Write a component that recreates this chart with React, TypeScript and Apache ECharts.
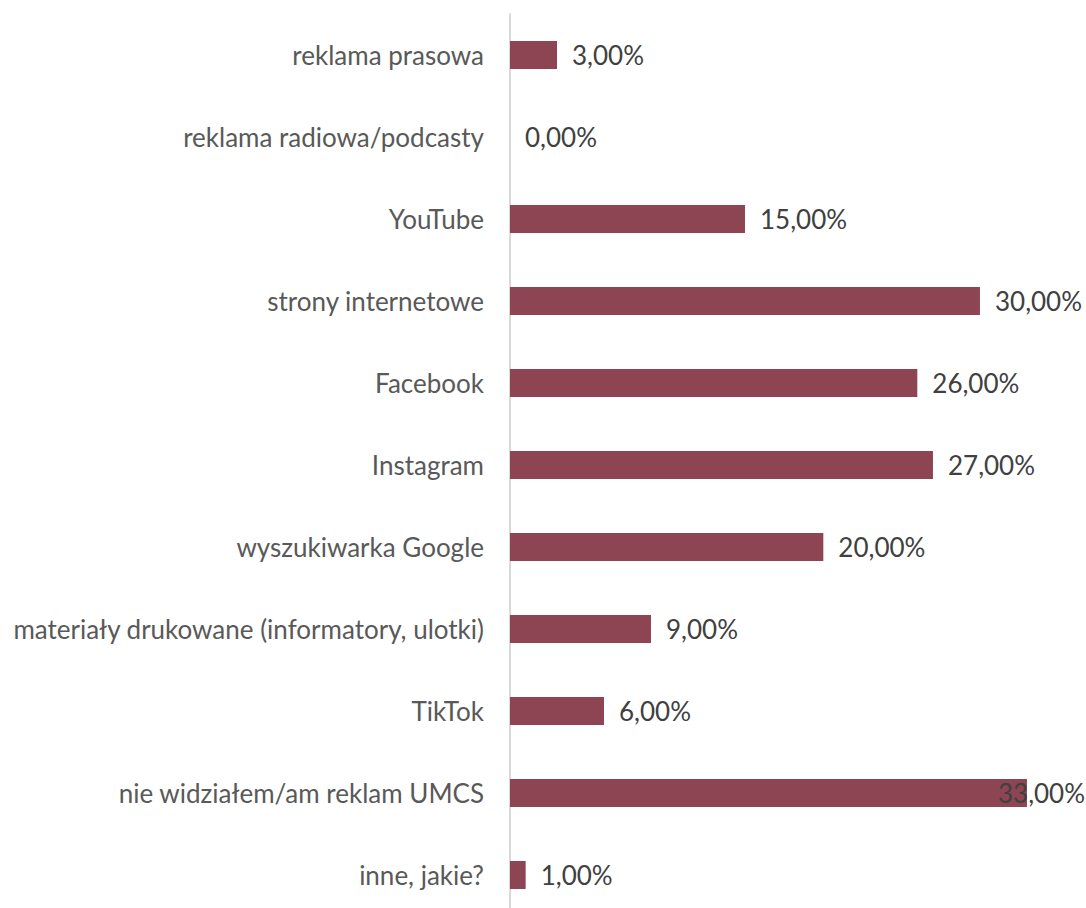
import React, { useEffect, useRef } from "react";
import * as echarts from "echarts";

const categories = [
  "reklama prasowa",
  "reklama radiowa/podcasty",
  "YouTube",
  "strony internetowe",
  "Facebook",
  "Instagram",
  "wyszukiwarka Google",
  "materiały drukowane (informatory, ulotki)",
  "TikTok",
  "nie widziałem/am reklam UMCS",
  "inne, jakie?",
];
const values = [3, 0, 15, 30, 26, 27, 20, 9, 6, 33, 1];

const FONT = "Lato";

export default function App() {
  const ref = useRef<HTMLDivElement>(null);
  useEffect(() => {
    if (!ref.current) return;
    const chart = echarts.init(ref.current, null, { renderer: "svg" });
    const maxV = Math.max(...values);
    chart.setOption({
      animation: false,
      backgroundColor: "#ffffff",
      grid: { left: 510, top: 14, width: 548.3, height: 902, containLabel: false },
      xAxis: {
        type: "value",
        min: 0,
        max: 35,
        show: false,
      },
      yAxis: {
        type: "category",
        inverse: true,
        data: categories,
        axisLine: { show: true, lineStyle: { color: "#d9d9d9", width: 2 } },
        axisTick: { show: false },
        axisLabel: {
          color: "#595959",
          fontFamily: FONT,
          fontSize: 26,
          margin: 26,
        },
      },
      series: [
        {
          type: "bar",
          barWidth: 28,
          itemStyle: { color: "#8e4553" },
          data: values.map((v) => ({
            value: v,
            label: v === maxV ? { offset: [-44, 0] } : undefined,
          })),
          label: {
            show: true,
            position: "right",
            distance: 15,
            color: "#404040",
            fontFamily: FONT,
            fontSize: 26,
            formatter: (p: any) => p.value.toFixed(2).replace(".", ",") + "%",
          },
        },
      ],
    });
    return () => chart.dispose();
  }, []);
  return (
    <div
      style={{
        position: "fixed",
        left: 0,
        top: 0,
        width: 1086,
        height: 908,
        overflow: "hidden",
        background: "#ffffff",
      }}
    >
      <div ref={ref} style={{ width: 1086, height: 930 }} />
    </div>
  );
}
